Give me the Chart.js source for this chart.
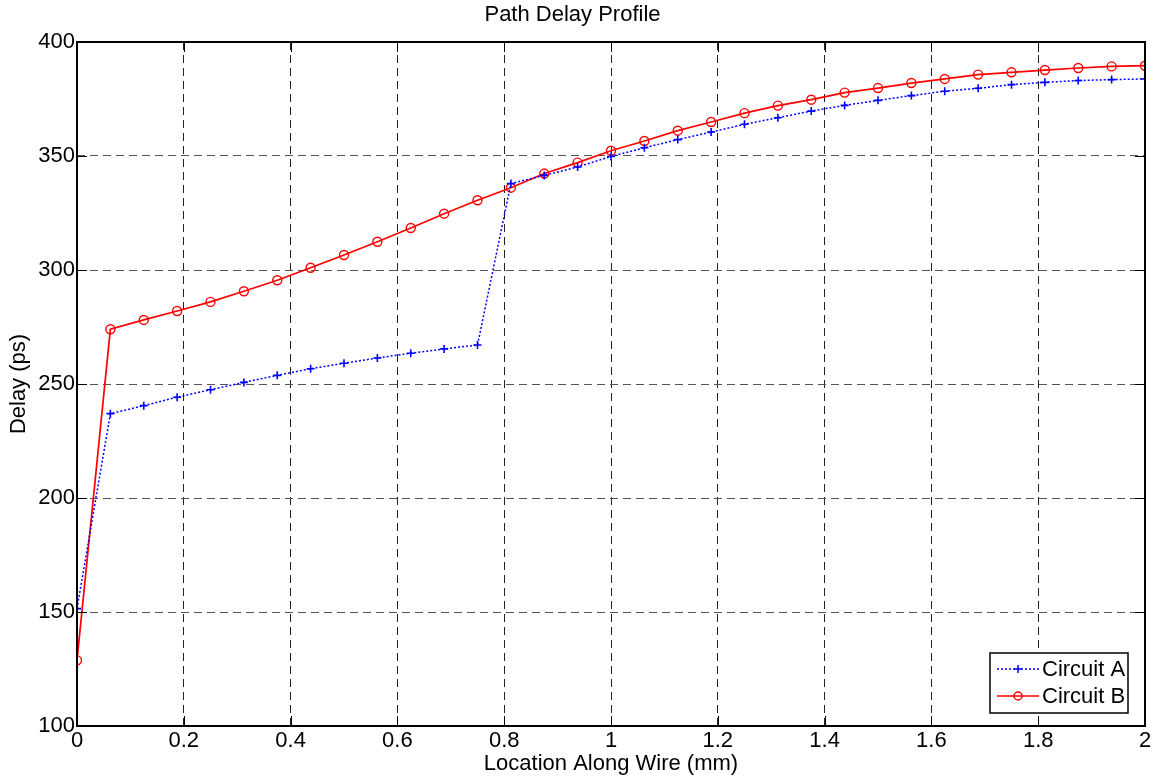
<!DOCTYPE html>
<html>
<head>
<meta charset="utf-8">
<script src="https://cdn.jsdelivr.net/npm/chart.js@4"></script>
<style>
  html, body { margin: 0; padding: 0; background: #fff; }
  #wrap { width: 1160px; height: 778px; }
</style>
</head>
<body>
<div id="wrap"><canvas id="delayChart" width="1160" height="778"></canvas></div>
<script>
// positions along the wire (mm), sampled every 0.0625
const locations = [0, 0.0625, 0.125, 0.1875, 0.25, 0.3125, 0.375, 0.4375, 0.5, 0.5625, 0.625, 0.6875, 0.75,
  0.8125, 0.875, 0.9375, 1, 1.0625, 1.125, 1.1875, 1.25, 1.3125, 1.375, 1.4375, 1.5, 1.5625, 1.625,
  1.6875, 1.75, 1.8125, 1.875, 1.9375, 2];

const circuitA = [151.5, 237, 240.5, 244.2, 247.5, 250.7, 253.8, 256.7, 259.1, 261.4, 263.5, 265.4, 267.1,
  337.9, 341.5, 345.2, 349.8, 353.6, 357.2, 360.5, 363.9, 366.8, 369.7, 372.2, 374.4, 376.5, 378.4,
  379.7, 381.3, 382.3, 383.1, 383.5, 383.8];

const circuitB = [128.8, 274, 278.1, 282, 286, 290.7, 295.5, 301, 306.6, 312.4, 318.4, 324.7, 330.6,
  336.1, 342.3, 347.1, 352.3, 356.6, 361.1, 364.9, 368.8, 372.1, 374.7, 377.8, 379.8, 382, 383.8,
  385.7, 386.7, 387.7, 388.6, 389.3, 389.6];

const xTicks = [0, 0.2, 0.4, 0.6, 0.8, 1, 1.2, 1.4, 1.6, 1.8, 2];
const yTicks = [100, 150, 200, 250, 300, 350, 400];

const FONT = 'Liberation Sans, Arial, sans-serif';
const FS = 22;

function toPoints(vals) {
  return locations.map((x, i) => ({ x: x, y: vals[i] }));
}

// box, inward ticks and legend drawn the matlab way
const matlabFrame = {
  id: 'matlabFrame',
  afterDraw(chart) {
    const c = chart.ctx;
    const a = chart.chartArea;
    const xs = chart.scales.x, ys = chart.scales.y;
    c.save();
    c.strokeStyle = '#000';
    c.lineWidth = 1;
    c.setLineDash([]);
    c.beginPath();
    xTicks.forEach(t => {
      const px = Math.round(xs.getPixelForValue(t)) + 0.5;
      c.moveTo(px, a.bottom); c.lineTo(px, a.bottom - 10);
      c.moveTo(px, a.top); c.lineTo(px, a.top + 10);
    });
    yTicks.forEach(t => {
      const py = Math.round(ys.getPixelForValue(t)) + 0.5;
      c.moveTo(a.left, py); c.lineTo(a.left + 10, py);
      c.moveTo(a.right, py); c.lineTo(a.right - 10, py);
    });
    c.stroke();
    c.lineWidth = 2;
    c.strokeRect(a.left, a.top, a.right - a.left, a.bottom - a.top);

    // legend
    const bw = 138, bh = 60;
    const bx = a.right - 17 - bw, by = a.bottom - 13 - bh;
    c.fillStyle = '#fff';
    c.fillRect(bx, by, bw, bh);
    c.lineWidth = 1.5;
    c.strokeRect(bx, by, bw, bh);
    c.font = FS + 'px ' + FONT;
    c.textBaseline = 'middle';
    chart.data.datasets.forEach((ds, i) => {
      const ly = by + 16 + i * 27;
      const x0 = bx + 7, x1 = bx + 49, xm = (x0 + x1) / 2;
      c.strokeStyle = ds.borderColor;
      c.lineWidth = ds.borderWidth;
      c.setLineDash(ds.borderDash || []);
      c.beginPath(); c.moveTo(x0, ly); c.lineTo(x1, ly); c.stroke();
      c.setLineDash([]);
      c.lineWidth = 1.5;
      c.beginPath();
      if (ds.pointStyle === 'cross') {
        c.moveTo(xm - 4, ly); c.lineTo(xm + 4, ly);
        c.moveTo(xm, ly - 4); c.lineTo(xm, ly + 4);
      } else {
        c.arc(xm, ly, 4, 0, Math.PI * 2);
      }
      c.stroke();
      c.fillStyle = '#000';
      c.fillText(ds.label, bx + 52, ly + 1);
    });
    c.restore();
  }
};

new Chart(document.getElementById('delayChart'), {
  type: 'line',
  data: {
    datasets: [{
      label: 'Circuit A',
      data: toPoints(circuitA),
      borderColor: '#0000ff',
      borderWidth: 1.5,
      borderDash: [2, 2],
      pointStyle: 'cross',
      pointRadius: 4,
      pointBorderWidth: 1.6,
      pointBorderColor: '#0000ff',
      backgroundColor: 'transparent',
      tension: 0
    }, {
      label: 'Circuit B',
      data: toPoints(circuitB),
      borderColor: '#ff0000',
      borderWidth: 1.7,
      pointStyle: 'circle',
      pointRadius: 4.5,
      pointBorderWidth: 1.4,
      pointBorderColor: '#ff0000',
      pointBackgroundColor: 'transparent',
      backgroundColor: 'transparent',
      tension: 0
    }]
  },
  options: {
    responsive: false,
    animation: false,
    layout: { padding: { left: 0, right: 15, top: 0, bottom: 0 } },
    plugins: {
      legend: { display: false },
      tooltip: { enabled: false },
      title: {
        display: true,
        text: 'Path Delay Profile',
        color: '#000',
        font: { family: FONT, size: FS, weight: 'normal', lineHeight: 1.2 },
        padding: { top: 2, bottom: 13.6 }
      }
    },
    scales: {
      x: {
        type: 'linear',
        min: 0, max: 2,
        afterBuildTicks: s => { s.ticks = xTicks.map(v => ({ value: v })); },
        afterFit: s => { s.height = 52; },
        ticks: {
          color: '#000',
          font: { family: FONT, size: FS },
          padding: 2,
          maxRotation: 0,
          callback: v => String(v)
        },
        grid: { color: '#222', lineWidth: 1, drawTicks: false },
        border: { display: false, dash: [8, 5] },
        title: {
          display: true,
          text: 'Location Along Wire (mm)',
          color: '#000',
          font: { family: FONT, size: FS },
          padding: { top: 0, bottom: 1 }
        }
      },
      y: {
        min: 100, max: 400,
        afterBuildTicks: s => { s.ticks = yTicks.map(v => ({ value: v })); },
        afterFit: s => { s.width = 77; },
        ticks: {
          color: '#000',
          font: { family: FONT, size: FS },
          padding: 2
        },
        grid: { color: '#555', lineWidth: 1, drawTicks: false },
        border: { display: false, dash: [8, 5] },
        title: {
          display: true,
          text: 'Delay (ps)',
          color: '#000',
          font: { family: FONT, size: FS },
          padding: { top: 6, bottom: 0 }
        }
      }
    }
  },
  plugins: [matlabFrame]
});
</script>
</body>
</html>
